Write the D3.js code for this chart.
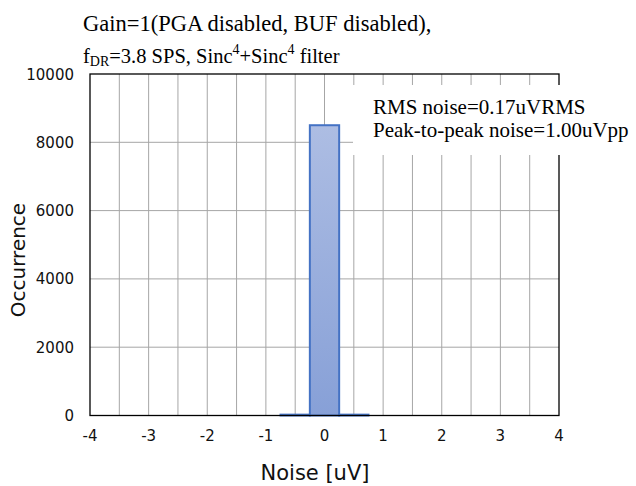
<!DOCTYPE html>
<html>
<head>
<meta charset="utf-8">
<script src="https://cdn.jsdelivr.net/npm/d3@7"></script>
<style>
body { margin: 0; background: #fff; }
svg { display: block; }
</style>
</head>
<body>
<svg id="chart" width="636" height="486"></svg>
<script>
// Data
const binCenters = [-0.5, 0, 0.5];
const counts = [25, 8500, 25];
const binWidth = 0.5;
const xTicks = [-4, -3, -2, -1, 0, 1, 2, 3, 4];
const yTicks = [0, 2000, 4000, 6000, 8000, 10000];
const titleLine1 = "Gain=1(PGA disabled, BUF disabled),";
const annotLines = ["RMS noise=0.17uVRMS", "Peak-to-peak noise=1.00uVpp"];

const svg = d3.select("#chart");
const pL = 90, pR = 559, pT = 74, pB = 415.5;

const x = d3.scaleLinear().domain([-4, 4]).range([pL, pR]);
const y = d3.scaleLinear().domain([0, 10000]).range([pB, pT]);

const defs = svg.append("defs");
const grad = defs.append("linearGradient").attr("id", "barGrad")
  .attr("x1", 0).attr("y1", 0).attr("x2", 0).attr("y2", 1);
grad.append("stop").attr("offset", "0%").attr("stop-color", "#adbde3");
grad.append("stop").attr("offset", "100%").attr("stop-color", "#87a0d7");

// gridlines
const gridX = d3.range(-3.5, 4, 0.5);
svg.append("g").selectAll("line").data(gridX).join("line")
  .attr("x1", d => x(d)).attr("x2", d => x(d))
  .attr("y1", pT).attr("y2", pB)
  .attr("stroke", "#a6a6a6").attr("stroke-width", 1);
svg.append("g").selectAll("line").data(yTicks.slice(1, -1)).join("line")
  .attr("x1", pL).attr("x2", pR)
  .attr("y1", d => y(d)).attr("y2", d => y(d))
  .attr("stroke", "#a6a6a6").attr("stroke-width", 1);

// bars
svg.append("g").selectAll("rect").data(binCenters).join("rect")
  .attr("x", d => x(d - binWidth / 2))
  .attr("width", d => x(d + binWidth / 2) - x(d - binWidth / 2))
  .attr("y", (d, i) => y(counts[i]))
  .attr("height", (d, i) => y(0) - y(counts[i]))
  .attr("fill", "url(#barGrad)")
  .attr("stroke", "#4472c4").attr("stroke-width", 2);

// border
svg.append("rect").attr("x", pL).attr("y", pT)
  .attr("width", pR - pL).attr("height", pB - pT)
  .attr("fill", "none").attr("stroke", "#000").attr("stroke-width", 1.3);

const sf = "DejaVu Sans, Verdana, sans-serif";
// y ticks
svg.append("g").selectAll("text").data(yTicks).join("text")
  .attr("x", 74).attr("y", d => y(d) + 5.5)
  .attr("text-anchor", "end")
  .attr("font-family", sf)
  .attr("font-size", 15).attr("fill", "#111")
  .text(d => d);

// x ticks
svg.append("g").selectAll("text").data(xTicks).join("text")
  .attr("x", d => x(d)).attr("y", 441)
  .attr("text-anchor", "middle")
  .attr("font-family", sf)
  .attr("font-size", 15).attr("fill", "#111")
  .text(d => d);

// axis titles
svg.append("text").attr("x", 315).attr("y", 480)
  .attr("text-anchor", "middle")
  .attr("font-family", sf)
  .attr("font-size", 21).attr("fill", "#111")
  .text("Noise [uV]");
svg.append("text").attr("transform", "translate(25,260) rotate(-90)")
  .attr("text-anchor", "middle")
  .attr("font-family", sf)
  .attr("font-size", 20).attr("fill", "#111")
  .text("Occurrence");

// title
const tf = "Liberation Serif, Times New Roman, serif";
svg.append("text").attr("x", 83).attr("y", 31)
  .attr("font-family", tf).attr("font-size", 22.5).attr("fill", "#000")
  .text(titleLine1);
const t2 = svg.append("text").attr("x", 83).attr("y", 63)
  .attr("font-family", tf).attr("font-size", 20.5).attr("fill", "#000");
t2.append("tspan").text("f");
t2.append("tspan").attr("font-size", 14).attr("dy", 3).text("DR");
t2.append("tspan").attr("dy", -3).text("=3.8 SPS, Sinc");
t2.append("tspan").attr("font-size", 14).attr("dy", -9).text("4");
t2.append("tspan").attr("dy", 9).text("+Sinc");
t2.append("tspan").attr("font-size", 14).attr("dy", -9).text("4");
t2.append("tspan").attr("dy", 9).text(" filter");

// annotation box
svg.append("rect").attr("x", 353).attr("y", 85).attr("width", 283).attr("height", 70)
  .attr("fill", "#fff");
svg.append("g").selectAll("text").data(annotLines).join("text")
  .attr("x", 373).attr("y", (d, i) => 114 + i * 23)
  .attr("font-family", tf).attr("font-size", 21).attr("fill", "#000")
  .text(d => d);
</script>
</body>
</html>
